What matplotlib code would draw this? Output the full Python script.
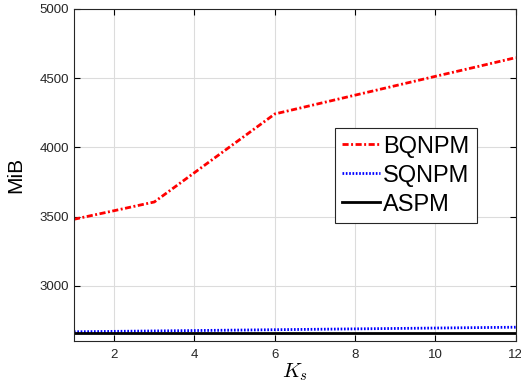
import numpy as np
import matplotlib.pyplot as plt

plt.rcParams['font.family'] = ['Liberation Sans', 'DejaVu Sans']
plt.rcParams['mathtext.fontset'] = 'cm'

# datos
ks = [1, 2, 3, 4, 5, 6, 7, 8, 9, 10, 11, 12]
bqnpm = [3480, 3542, 3605, 3817, 4029, 4241, 4309, 4377, 4445, 4513, 4580, 4648]
sqnpm = [2667, 2670, 2673, 2676, 2679, 2682, 2685, 2688, 2691, 2694, 2697, 2700]
aspm = [2660, 2660, 2660, 2660, 2660, 2660, 2660, 2660, 2660, 2660, 2660, 2660]

fig = plt.figure(figsize=(5.21, 3.88), dpi=100)
ax = fig.add_axes([0.142, 0.121, 0.848, 0.856])

ax.plot(ks, bqnpm, color='red', linestyle=(0, (2.2, 0.9, 0.7, 0.9)), linewidth=2, label='BQNPM')
ax.plot(ks, sqnpm, color='blue', linestyle=(0, (0.6, 0.6)), linewidth=2, label='SQNPM')
ax.plot(ks, aspm, color='black', linestyle='-', linewidth=2, label='ASPM')

ax.set_xlim(1, 12)
ax.set_ylim(2600, 5000)
ax.set_xticks([2, 4, 6, 8, 10, 12])
ax.set_yticks([3000, 3500, 4000, 4500, 5000])
ax.grid(True, color='#dcdcdc', linewidth=0.8)
ax.tick_params(direction='in', top=True, right=True, labelsize=9.5, labelcolor='#262626', length=4)
ax.tick_params(axis='x', pad=6)
for s in ax.spines.values():
    s.set_linewidth(0.8)
    s.set_color('#262626')

ax.set_ylabel('MiB', fontsize=15, labelpad=10)
ax.set_xlabel(r'$K_s$', fontsize=15, labelpad=0)

leg = ax.legend(loc='upper left', bbox_to_anchor=(0.59, 0.64), fontsize=17,
                frameon=True, fancybox=False, edgecolor='#262626', framealpha=1,
                handlelength=1.6, handletextpad=0.15, borderpad=0.3, labelspacing=0.3,
                borderaxespad=0)
leg.get_frame().set_linewidth(0.8)

plt.savefig('out.png', dpi=100)
